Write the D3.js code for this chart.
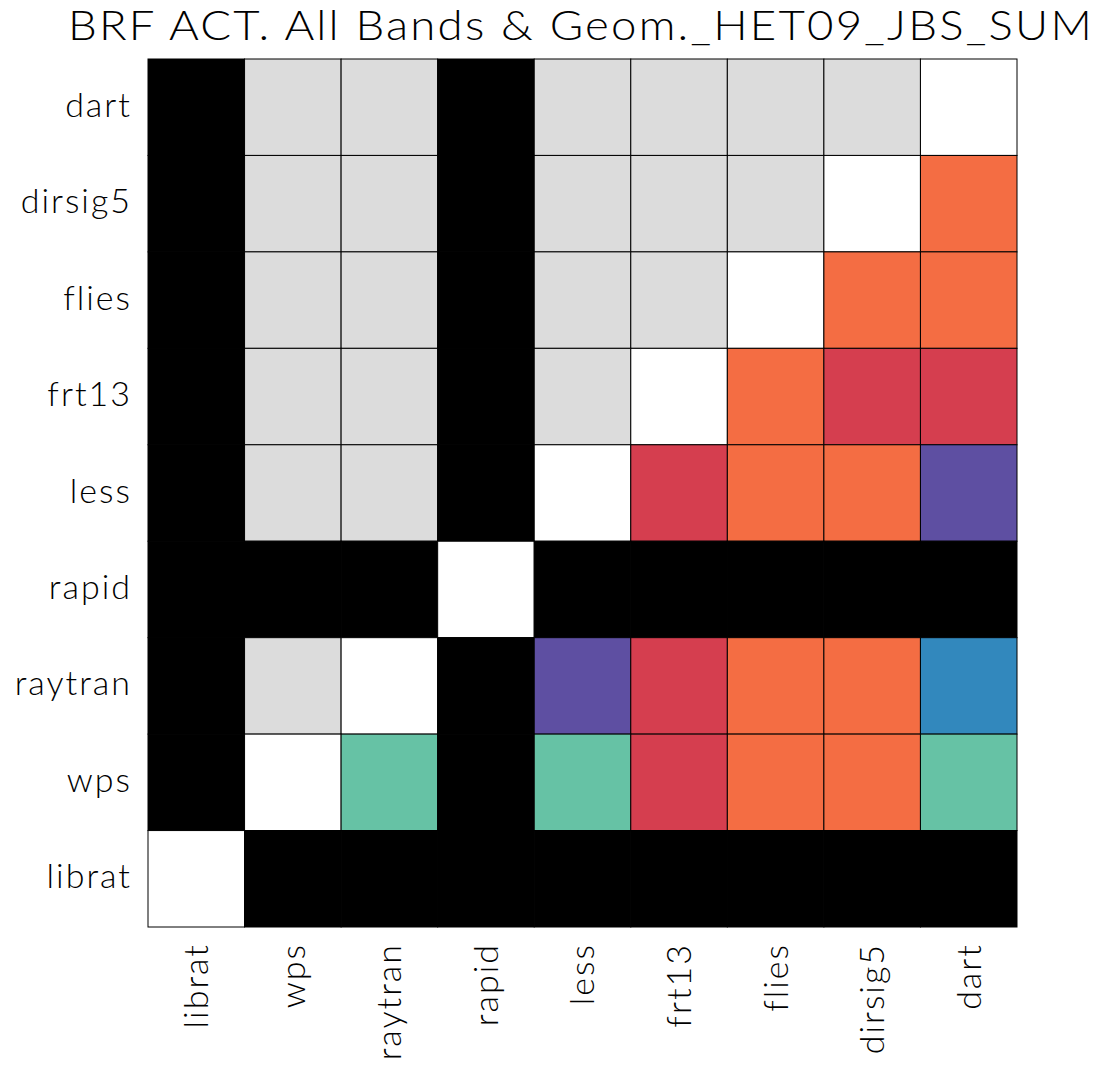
<!DOCTYPE html>
<html>
<head>
<meta charset="utf-8">
<script src="https://cdn.jsdelivr.net/npm/d3@7"></script>
<style>
  html, body { margin: 0; padding: 0; background: #fff; }
  svg text { font-family: "Lato", "DejaVu Sans", sans-serif; font-weight: 300; fill: #000; }
</style>
</head>
<body>
<svg id="chart" width="1097" height="1068"></svg>
<script>
// Model names along each axis
const colNames = ["librat", "wps", "raytran", "rapid", "less", "frt13", "flies", "dirsig5", "dart"];
const rowNames = ["dart", "dirsig5", "flies", "frt13", "less", "rapid", "raytran", "wps", "librat"];

// Cell classes: "x" = no data, "d" = self comparison, "u" = upper half, 0..4 = agreement class
const row_dart    = ["x", "u", "u", "x", "u", "u", "u", "u", "d"];
const row_dirsig5 = ["x", "u", "u", "x", "u", "u", "u", "d", 2];
const row_flies   = ["x", "u", "u", "x", "u", "u", "d", 2, 2];
const row_frt13   = ["x", "u", "u", "x", "u", "d", 2, 1, 1];
const row_less    = ["x", "u", "u", "x", "d", 1, 2, 2, 0];
const row_rapid   = ["x", "x", "x", "d", "x", "x", "x", "x", "x"];
const row_raytran = ["x", "u", "d", "x", 0, 1, 2, 2, 4];
const row_wps     = ["x", "d", 3, "x", 3, 1, 2, 2, 3];
const row_librat  = ["d", "x", "x", "x", "x", "x", "x", "x", "x"];
const matrix = [row_dart, row_dirsig5, row_flies, row_frt13, row_less, row_rapid, row_raytran, row_wps, row_librat];

const classKeys   = ["x", "d", "u", 0, 1, 2, 3, 4];
const classColors = ["#000000", "#ffffff", "#dcdcdc", "#5e4fa2", "#d53e4f", "#f46d43", "#66c2a5", "#3288bd"];

const titleText = "BRF ACT. All Bands & Geom._HET09_JBS_SUM";

const svg = d3.select("#chart");
const plotL = 148, plotR = 1017, plotT = 59, plotB = 927;

const x = d3.scaleBand().domain(colNames).range([plotL, plotR]).padding(0);
const y = d3.scaleBand().domain(rowNames).range([plotT, plotB]).padding(0);
const color = d3.scaleOrdinal().domain(classKeys).range(classColors);

const cells = [];
matrix.forEach((r, i) => r.forEach((v, j) => cells.push({ row: rowNames[i], col: colNames[j], v })));

svg.append("g")
  .selectAll("rect")
  .data(cells)
  .join("rect")
  .attr("x", d => x(d.col))
  .attr("y", d => y(d.row))
  .attr("width", x.bandwidth())
  .attr("height", y.bandwidth())
  .attr("fill", d => color(d.v))
  .attr("stroke", "#000")
  .attr("stroke-width", 1);

// Title
svg.append("text")
  .attr("x", 68)
  .attr("y", 40)
  .attr("font-size", 41)
  .attr("letter-spacing", 2)
  .attr("textLength", 1026)
  .attr("lengthAdjust", "spacingAndGlyphs")
  .text(titleText);

// Row labels (left)
const yAxis = d3.axisLeft(y).tickSize(0).tickPadding(16);
const gy = svg.append("g").attr("transform", `translate(${plotL},0)`).call(yAxis);
gy.select(".domain").remove();
gy.selectAll("text")
  .attr("font-size", 34)
  .attr("letter-spacing", 2)
  .attr("dy", "0.28em")
  .style("font-family", "Lato, 'DejaVu Sans', sans-serif");

// Column labels (bottom, rotated)
const xAxis = d3.axisBottom(x).tickSize(0).tickPadding(0);
const gx = svg.append("g").attr("transform", `translate(0,${plotB})`).call(xAxis);
gx.select(".domain").remove();
gx.selectAll("text")
  .attr("font-size", 34)
  .attr("letter-spacing", 2)
  .attr("text-anchor", "end")
  .attr("transform", "rotate(-90)")
  .attr("x", -16)
  .attr("y", 0)
  .attr("dy", "0.35em")
  .style("font-family", "Lato, 'DejaVu Sans', sans-serif");
</script>
</body>
</html>
